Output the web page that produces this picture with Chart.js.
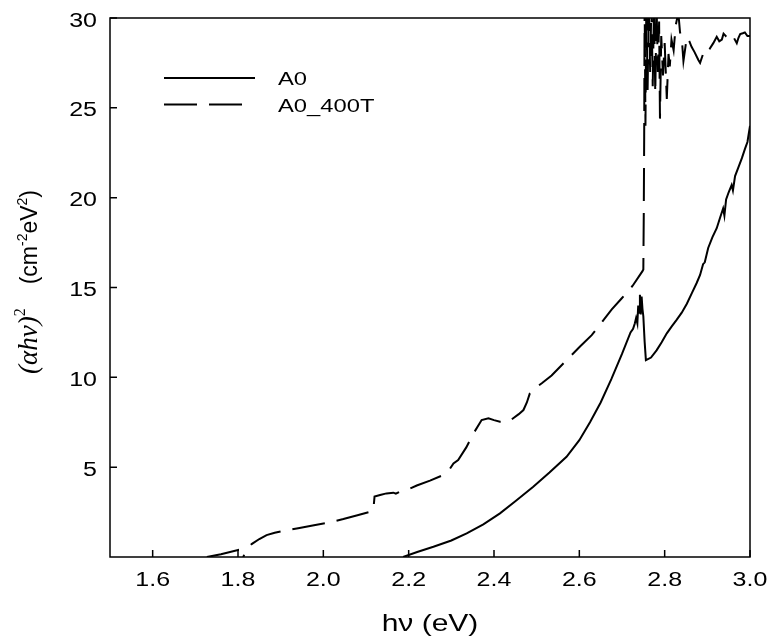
<!DOCTYPE html>
<html>
<head>
<meta charset="utf-8">
<script src="https://cdn.jsdelivr.net/npm/chart.js@4.4.1/dist/chart.umd.min.js"></script>
<style>
  html, body { margin: 0; padding: 0; background: #fff; }
</style>
</head>
<body>
<canvas id="taucChart" width="769" height="644"></canvas>
<script>
var xTicks = [1.6, 1.8, 2.0, 2.2, 2.4, 2.6, 2.8, 3.0];
var yTicks = [5, 10, 15, 20, 25, 30];
var seriesNames = ['A0', 'A0_400T'];
var xTitle = 'hν (eV)';

// A0 (solid)
var a0Energy = [2.187, 2.22, 2.258, 2.30, 2.336, 2.375, 2.414, 2.45, 2.492, 2.53, 2.570, 2.60, 2.625, 2.65, 2.675,
    2.70, 2.72, 2.726, 2.730, 2.733, 2.736, 2.738, 2.740, 2.742, 2.744, 2.746, 2.748, 2.750, 2.753, 2.756,
    2.768, 2.781, 2.793, 2.805, 2.817, 2.828, 2.840, 2.852, 2.864, 2.875, 2.883, 2.890, 2.894, 2.902, 2.912,
    2.922, 2.930, 2.937, 2.940, 2.944, 2.950, 2.957, 2.960, 2.965, 2.973, 2.981, 2.988, 2.994, 3.0];
var a0Value = [0, 0.28, 0.57, 0.92, 1.32, 1.82, 2.43, 3.1, 3.91, 4.7, 5.58, 6.5, 7.5, 8.6, 9.9,
    11.3, 12.5, 12.7, 13.0, 13.3, 13.0, 14.0, 13.6, 14.6, 13.5, 14.5, 13.8, 13.4, 12.0, 10.96,
    11.1, 11.5, 11.95, 12.45, 12.85, 13.2, 13.6, 14.1, 14.7, 15.25, 15.7, 16.3, 16.4, 17.2, 17.8,
    18.3, 18.9, 19.4, 19.0, 19.9, 20.3, 20.7, 20.4, 21.2, 21.7, 22.2, 22.7, 23.1, 24.0];

// A0_400T (dashed)
var a400Energy = [1.727, 1.76, 1.80, 1.801, 1.815, 1.832, 1.85, 1.867, 1.886, 1.906, 1.941, 1.975, 2.012, 2.047, 2.08,
    2.117, 2.120, 2.133, 2.148, 2.164, 2.170, 2.180, 2.20, 2.219, 2.25, 2.281, 2.295, 2.305, 2.316, 2.335,
    2.352, 2.371, 2.387, 2.40, 2.414, 2.434, 2.445, 2.458, 2.469, 2.477, 2.484, 2.496, 2.512, 2.535, 2.555,
    2.578, 2.601, 2.629, 2.652, 2.676, 2.699, 2.725, 2.748, 2.750, 2.751, 2.752, 2.753, 2.755, 2.757, 2.760,
    2.763, 2.766, 2.769, 2.772, 2.775, 2.778, 2.781, 2.784, 2.787, 2.789, 2.792, 2.796, 2.800, 2.805, 2.809,
    2.812, 2.816, 2.821, 2.826, 2.832, 2.836, 2.840, 2.844, 2.852, 2.858, 2.863, 2.870, 2.879, 2.883, 2.890,
    2.898, 2.906, 2.914, 2.922, 2.928, 2.934, 2.938, 2.943, 2.949, 2.955, 2.961, 2.969, 2.973, 2.977, 2.983,
    2.988, 2.994, 3.0];
var a400Value = [0, 0.15, 0.39, -1.0, 0.2, 0.72, 1.0, 1.22, 1.35, 1.45, 1.60, 1.75, 1.91, 2.11, 2.32,
    2.56, 3.36, 3.45, 3.54, 3.58, 3.52, 3.64, 3.78, 3.98, 4.25, 4.56, 4.85, 5.21, 5.4, 6.1,
    6.88, 7.62, 7.72, 7.62, 7.53, 7.53, 7.72, 7.95, 8.18, 8.6, 9.11, 9.39, 9.67, 10.1, 10.59,
    11.15, 11.70, 12.35, 13.05, 13.78, 14.39, 15.1, 15.91, 16.0, 19.0, 23.4, 31, 24.0, 31, 26.0,
    31, 27.0, 31, 26.2, 30.6, 25.8, 30.8, 27.0, 29.8, 24.4, 29.0, 26.8, 28.6, 25.5, 28.0,
    27.3, 28.8, 28.2, 29.6, 30.3, 29.2, 28.9, 27.6, 28.95, 28.7, 28.4, 28.1, 27.66, 27.5, 28.0,
    27.9, 28.3, 28.6, 28.95, 28.7, 28.8, 29.13, 29.0, 29.2, 29.1, 28.95, 28.6, 28.9, 29.1, 29.15,
    29.2, 29.0, 29.0];

function toPoints(xs, ys) {
    return xs.map(function (x, i) { return { x: x, y: ys[i] }; });
}

var sans = '"Liberation Sans", Arial, sans-serif';
var serif = '"Liberation Serif", "Times New Roman", serif';
var stretch = 1.25; // the original figure's text is a bit wide

function wideText(ctx, text, x, y, font, align) {
    ctx.save();
    ctx.font = font;
    ctx.textAlign = align;
    ctx.textBaseline = 'alphabetic';
    ctx.translate(x, y);
    ctx.scale(stretch, 1);
    ctx.fillText(text, 0, 0);
    ctx.restore();
}

// box round the plot, inward tick marks, tick labels
var frameTicks = {
    id: 'frameTicks',
    afterDraw: function (chart) {
        var ctx = chart.ctx, a = chart.chartArea;
        var xs = chart.scales.x, ys = chart.scales.y;
        ctx.save();
        ctx.strokeStyle = '#000';
        ctx.fillStyle = '#000';
        ctx.lineWidth = 1.5;
        ctx.strokeRect(a.left, a.top, a.right - a.left, a.bottom - a.top);
        ctx.beginPath();
        xTicks.forEach(function (v) {
            var px = xs.getPixelForValue(v);
            ctx.moveTo(px, a.bottom);
            ctx.lineTo(px, a.bottom - 7);
        });
        yTicks.forEach(function (v) {
            var py = ys.getPixelForValue(v);
            ctx.moveTo(a.left, py);
            ctx.lineTo(a.left + 7, py);
        });
        ctx.stroke();
        xTicks.forEach(function (v) {
            wideText(ctx, v.toFixed(1), xs.getPixelForValue(v), a.bottom + 29, '20px ' + sans, 'center');
        });
        yTicks.forEach(function (v) {
            wideText(ctx, String(v), a.left - 13, ys.getPixelForValue(v) + 8.5, '20px ' + sans, 'right');
        });
        wideText(ctx, xTitle, (a.left + a.right) / 2, 631, '24px ' + sans, 'center');
        ctx.restore();
    }
};

// legend inside the plot, top left
var insideLegend = {
    id: 'insideLegend',
    afterDraw: function (chart) {
        var ctx = chart.ctx, a = chart.chartArea;
        var x0 = a.left + 54, y0 = a.top + 60;
        ctx.save();
        chart.data.datasets.forEach(function (ds, i) {
            var y = y0 + i * 26.5;
            ctx.strokeStyle = '#000';
            ctx.lineWidth = 1.9;
            ctx.setLineDash(ds.borderDash || []);
            ctx.beginPath();
            ctx.moveTo(x0, y);
            ctx.lineTo(x0 + (ds.borderDash ? 80 : 91), y);
            ctx.stroke();
            ctx.setLineDash([]);
            ctx.fillStyle = '#000';
            wideText(ctx, ds.label, x0 + 114, y + 7.3, '19px ' + sans, 'left');
        });
        ctx.restore();
    }
};

// y title with italic (αhν) and superscripts
var yTitle = {
    id: 'yTitle',
    afterDraw: function (chart) {
        var ctx = chart.ctx;
        var parts = [
            { t: '(αhν)', f: 'italic 27px ' + serif, dy: 0, gap: 0 },
            { t: '2', f: '16px ' + serif, dy: -12, gap: 0 },
            { t: '(cm', f: '23px ' + sans, dy: 0, gap: 24 },
            { t: '-2', f: '14px ' + sans, dy: -10, gap: 0 },
            { t: 'eV', f: '23px ' + sans, dy: 0, gap: 0 },
            { t: '2', f: '14px ' + sans, dy: -10, gap: 0 },
            { t: ')', f: '23px ' + sans, dy: 0, gap: 0 }
        ];
        ctx.save();
        ctx.fillStyle = '#000';
        ctx.textBaseline = 'alphabetic';
        var total = 0;
        parts.forEach(function (p) { ctx.font = p.f; p.w = ctx.measureText(p.t).width; total += p.w + p.gap; });
        ctx.translate(37, 282);
        ctx.rotate(-Math.PI / 2);
        var x = -total / 2;
        parts.forEach(function (p) {
            x += p.gap;
            ctx.font = p.f;
            ctx.fillText(p.t, x, p.dy);
            x += p.w;
        });
        ctx.restore();
    }
};

var ctx = document.getElementById('taucChart').getContext('2d');
var chart = new Chart(ctx, {
    type: 'line',
    data: {
        datasets: [{
            label: seriesNames[0],
            data: toPoints(a0Energy, a0Value),
            borderColor: '#000',
            borderWidth: 2,
            pointRadius: 0,
            tension: 0
        }, {
            label: seriesNames[1],
            data: toPoints(a400Energy, a400Value),
            borderColor: '#000',
            borderWidth: 2,
            borderDash: [33, 12],
            pointRadius: 0,
            tension: 0
        }]
    },
    options: {
        responsive: false,
        animation: false,
        layout: { padding: { top: 18, right: 19, left: 0, bottom: 0 } },
        plugins: {
            legend: { display: false },
            tooltip: { enabled: false }
        },
        scales: {
            x: {
                type: 'linear',
                min: 1.5,
                max: 3.0,
                afterBuildTicks: function (s) { s.ticks = xTicks.map(function (v) { return { value: v }; }); },
                afterFit: function (s) {
                    s.height = 87;
                    s.paddingLeft = 0; s.paddingRight = 0; s.paddingTop = 0; s.paddingBottom = 0;
                },
                grid: { display: false, drawTicks: false },
                border: { display: false },
                ticks: { display: false }
            },
            y: {
                min: 0,
                max: 30,
                afterBuildTicks: function (s) { s.ticks = yTicks.map(function (v) { return { value: v }; }); },
                afterFit: function (s) {
                    s.width = 110;
                    s.paddingLeft = 0; s.paddingRight = 0; s.paddingTop = 0; s.paddingBottom = 0;
                },
                grid: { display: false, drawTicks: false },
                border: { display: false },
                ticks: { display: false }
            }
        }
    },
    plugins: [frameTicks, insideLegend, yTitle]
});
</script>
</body>
</html>
